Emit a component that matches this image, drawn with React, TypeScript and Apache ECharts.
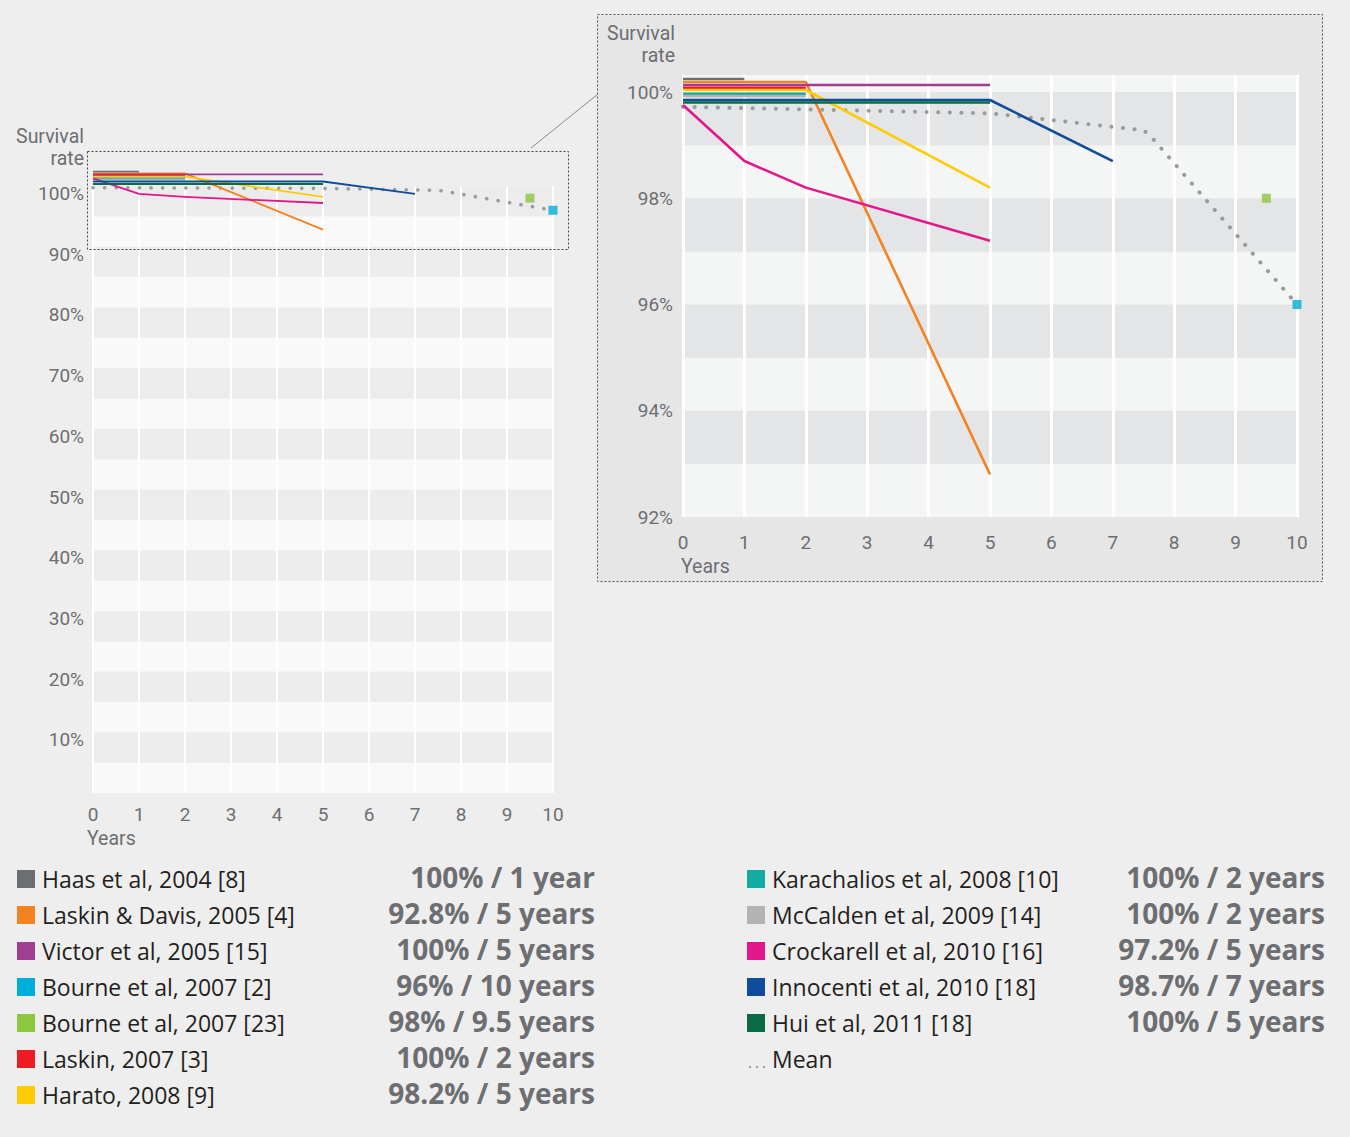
import React, { useEffect, useRef } from "react";
import * as echarts from "echarts";

// ---------- DATA ----------
const overviewYTicks = [10, 20, 30, 40, 50, 60, 70, 80, 90, 100];
const zoomYTicks = [92, 94, 96, 98, 100];

const studyNames = [
  "Haas et al, 2004 [8]",
  "Laskin & Davis, 2005 [4]",
  "Victor et al, 2005 [15]",
  "Bourne et al, 2007 [2]",
  "Bourne et al, 2007 [23]",
  "Laskin, 2007 [3]",
  "Harato, 2008 [9]",
  "Karachalios et al, 2008 [10]",
  "McCalden et al, 2009 [14]",
  "Crockarell et al, 2010 [16]",
  "Innocenti et al, 2010 [18]",
  "Hui et al, 2011 [18]",
];
const studySummaries = [
  "100% / 1 year",
  "92.8% / 5 years",
  "100% / 5 years",
  "96% / 10 years",
  "98% / 9.5 years",
  "100% / 2 years",
  "98.2% / 5 years",
  "100% / 2 years",
  "100% / 2 years",
  "97.2% / 5 years",
  "98.7% / 7 years",
  "100% / 5 years",
];

// [years, survival %]
const haasPoints = [[0, 100], [1, 100]];
const laskinDavisPoints = [[0, 100], [2, 100], [5, 92.8]];
const victorPoints = [[0, 100], [5, 100]];
const bourne2Points = [[10, 96]];
const bourne23Points = [[9.5, 98]];
const laskinPoints = [[0, 100], [2, 100]];
const haratoPoints = [[0, 100], [2, 100], [5, 98.2]];
const karachaliosPoints = [[0, 100], [2, 100]];
const mccaldenPoints = [[0, 100], [2, 100]];
const crockarellPoints = [[0, 100], [1, 98.7], [2, 98.2], [5, 97.2]];
const innocentiPoints = [[0, 100], [5, 100], [7, 98.7]];
const huiPoints = [[0, 100], [5, 100]];
const meanPoints = [[0, 99.72], [5, 99.6], [7.5, 99.28], [7.6, 99.19], [10, 96.0]];

// ---------- STYLE ----------
const colors = [
  "#6d6e71", "#f58220", "#a03d95", "#00aedb", "#8dc63f", "#ed1c24",
  "#ffcb05", "#13aba0", "#b2b3b5", "#e3168c", "#0e4c9c", "#0b6b45",
];
// vertical pixel offsets used to separate overlapping 100% lines
const zoomLanes = [-13, -10, -7, 0, 0, -4.3, -2, 1.7, 4, 13, 8, 10.5];
const overviewLanes = [-14.3, -12.7, -11.7, 0, 0, -10.7, -9.3, -7.7, -6.7, -7.7, -4.5, -2];

const studyPoints = [
  haasPoints, laskinDavisPoints, victorPoints, bourne2Points, bourne23Points,
  laskinPoints, haratoPoints, karachaliosPoints, mccaldenPoints,
  crockarellPoints, innocentiPoints, huiPoints,
];

const FONT = "Roboto, 'Noto Sans', sans-serif";
const LEGEND_FONT = "'Open Sans', Roboto, sans-serif";
const GRAY = "#6d6e71";

function lineSeries(points: number[][], color: string, lane: number, axis: number, width: number, dashed = false) {
  return {
    type: "custom",
    xAxisIndex: axis,
    yAxisIndex: axis,
    data: points,
    silent: true,
    z: dashed ? 3 : 4,
    renderItem: (params: any, api: any) => {
      if (params.dataIndex !== 0) return { type: "group", children: [] };
      const pts = points.map(([x, y]) => {
        const c = api.coord([x, y]);
        return [c[0], c[1] + (y >= 100 ? lane : 0)];
      });
      return {
        type: "polyline",
        shape: { points: pts },
        style: dashed
          ? { stroke: "#9a9b9d", lineWidth: width, fill: null, lineDash: [0.1, 11.5], lineCap: "round" }
          : { stroke: color, lineWidth: width, fill: null, lineJoin: "round" },
      };
    },
  };
}

function buildSeries() {
  const series: any[] = [];
  [0, 1].forEach((axis) => {
    series.push(lineSeries(meanPoints, "#999", 0, axis, axis === 1 ? 4 : 3.6, true));
    studyPoints.forEach((pts, i) => {
      if (pts.length < 2) {
        series.push({
          type: "scatter",
          xAxisIndex: axis,
          yAxisIndex: axis,
          data: pts,
          symbol: "rect",
          symbolSize: 9,
          itemStyle: { color: colors[i] },
          z: 5,
          silent: true,
        });
      } else {
        const lane = axis === 1 ? zoomLanes[i] : overviewLanes[i];
        series.push(lineSeries(pts, colors[i], lane, axis, axis === 1 ? 2.6 : 1.8));
      }
    });
  });
  return series;
}

function buildLegend() {
  const els: any[] = [];
  const rowY0 = 879;
  const rowGap = 36;
  const left = [0, 1, 2, 3, 4, 5, 6];
  const right = [7, 8, 9, 10, 11];
  const addRow = (i: number, row: number, sqX: number, valX: number) => {
    const y = rowY0 + row * rowGap;
    els.push({ type: "rect", shape: { x: sqX, y: y - 9, width: 18, height: 18 }, style: { fill: colors[i] } });
    els.push({
      type: "text", x: sqX + 25, y,
      style: { text: studyNames[i], font: `23px ${LEGEND_FONT}`, fill: "#231f20", align: "left", verticalAlign: "middle" },
    });
    els.push({
      type: "text", x: valX, y: y - 2,
      style: { text: studySummaries[i], font: `bold 28px ${LEGEND_FONT}`, fill: GRAY, align: "right", verticalAlign: "middle" },
    });
  };
  left.forEach((i, r) => addRow(i, r, 17, 595));
  right.forEach((i, r) => addRow(i, r, 747, 1325));
  const meanY = rowY0 + 5 * rowGap;
  [750, 757, 764].forEach((cx) =>
    els.push({ type: "circle", shape: { cx, cy: meanY + 8, r: 1.2 }, style: { fill: "#9a9b9d" } })
  );
  els.push({
    type: "text", x: 772, y: meanY,
    style: { text: "Mean", font: `23px ${LEGEND_FONT}`, fill: "#231f20", align: "left", verticalAlign: "middle" },
  });
  return els;
}

function buildGraphic() {
  const t = (x: number, y: number, text: string, align: string) => ({
    type: "text", x, y,
    style: { text, font: `19.5px ${FONT}`, fill: GRAY, align, verticalAlign: "middle" },
  });
  const els: any[] = [
    {
      type: "rect", z: -10,
      shape: { x: 597.5, y: 14.5, width: 725, height: 567 },
      style: { fill: "#e6e6e7", stroke: "#555", lineWidth: 1, lineDash: [2, 2] },
    },
    {
      type: "rect", z: 50,
      shape: { x: 87.5, y: 151.5, width: 481, height: 98 },
      style: { fill: null, stroke: "#444", lineWidth: 1, lineDash: [2, 2] },
    },
    {
      type: "line", z: 50,
      shape: { x1: 531, y1: 148, x2: 598, y2: 94 },
      style: { stroke: "#888", lineWidth: 1 },
    },
    t(84, 136, "Survival", "right"),
    t(84, 158, "rate", "right"),
    t(87, 838, "Years", "left"),
    t(675, 33, "Survival", "right"),
    t(675, 55, "rate", "right"),
    t(681, 566, "Years", "left"),
  ];
  return els.concat(buildLegend());
}

export default function App() {
  const ref = useRef<HTMLDivElement>(null);
  useEffect(() => {
    if (!ref.current) return;
    const chart = echarts.init(ref.current, null, { renderer: "svg" });
    const axisLabelBase = { color: GRAY, fontSize: 19, fontFamily: FONT };
    chart.setOption({
      animation: false,
      backgroundColor: "#eeeeee",
      grid: [
        { left: 93, top: 186, width: 460, height: 607 },
        { left: 683, top: 75, width: 614, height: 442 },
      ],
      xAxis: [0, 1].map((i) => ({
        type: "value",
        gridIndex: i,
        min: 0,
        max: 10,
        interval: 1,
        axisLine: { show: false },
        axisTick: { show: false },
        splitLine: { show: true, lineStyle: { color: "#ffffff", width: i === 1 ? 3 : 2 } },
        axisLabel: { ...axisLabelBase, margin: i === 1 ? 16 : 12 },
      })),
      yAxis: [
        {
          type: "value",
          gridIndex: 0,
          min: 0,
          max: 100,
          interval: 5,
          axisLine: { show: false },
          axisTick: { show: false },
          splitLine: { show: false },
          splitArea: { show: true, areaStyle: { color: ["#f9f9f9", "#ececec"] } },
          axisLabel: {
            ...axisLabelBase,
            margin: 9,
            verticalAlign: "top",
            lineHeight: 15,
            formatter: (v: number) => (overviewYTicks.includes(v) ? v + "%" : ""),
          },
        },
        {
          type: "value",
          gridIndex: 1,
          min: 92,
          max: 100.32,
          interval: 1,
          axisLine: { show: false },
          axisTick: { show: false },
          splitLine: { show: false },
          splitArea: { show: true, areaStyle: { color: ["#f4f5f5", "#e4e5e6"] } },
          axisLabel: {
            ...axisLabelBase,
            margin: 10,
            formatter: (v: number) => (zoomYTicks.includes(v) ? v + "%" : ""),
          },
        },
      ],
      series: buildSeries(),
      graphic: buildGraphic(),
    });
    return () => chart.dispose();
  }, []);
  return (
    <div
      ref={ref}
      style={{ position: "absolute", left: 0, top: 0, width: 1350, height: 1137 }}
    />
  );
}
